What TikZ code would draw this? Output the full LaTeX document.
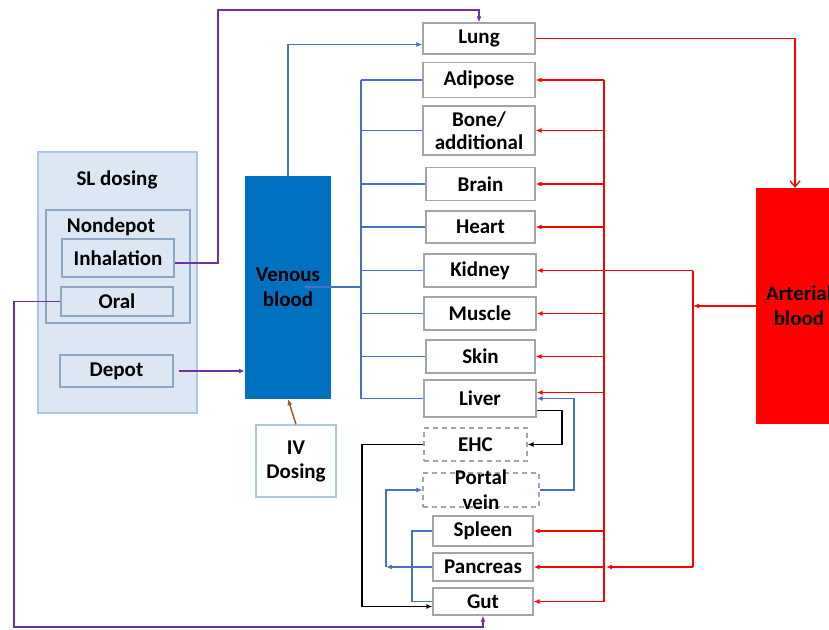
\documentclass[tikz,border=0pt]{standalone}
\usepackage{fontspec}
\setmainfont{Carlito}
\usetikzlibrary{arrows.meta}
\definecolor{VenBlue}{RGB}{0,112,192}
\definecolor{LineBlue}{RGB}{68,114,196}
\definecolor{ArtRed}{RGB}{255,0,0}
\definecolor{DosePurple}{RGB}{112,48,160}
\definecolor{IVBrown}{RGB}{156,87,30}
\definecolor{SLFill}{RGB}{220,231,243}
\definecolor{SLEdge}{RGB}{172,200,230}
\definecolor{SLInner}{RGB}{140,166,198}
\definecolor{OrganEdge}{RGB}{165,165,165}

\begin{document}
\begin{tikzpicture}[x=1pt, y=-1pt,
    font=\fontsize{21}{24}\selectfont\bfseries,
    organ/.style={draw=OrganEdge, line width=1.3pt, fill=white, inner sep=0pt, align=center},
    shunt/.style={organ, dashed, dash pattern=on 5pt off 4pt},
    dosebox/.style={draw=SLInner, line width=1.1pt, fill=SLFill, inner sep=0pt, align=center},
    blood/.style={inner sep=0pt, align=center, minimum width=86pt},
    arr/.style={-{Latex[length=6pt,width=5pt]}},
    blueline/.style={LineBlue, line width=1.3pt},
    redline/.style={ArtRed, line width=1.3pt},
    blackline/.style={black, line width=1.4pt},
    purpleline/.style={DosePurple, line width=1.3pt}]
  \useasboundingbox (0,0) rectangle (829,629);

  % SL dosing group
  \node[draw=SLEdge, line width=1.1pt, fill=SLFill, minimum width=159pt, minimum height=261pt] (sl) at (117.5,282.5) {};
  \node (sltitle) at (117,180) {SL dosing};
  \node[dosebox, minimum width=144pt, minimum height=113pt] (nondepot) at (118,266.5) {};
  \node (ndtitle) at (111,227) {Nondepot};
  \node[dosebox, minimum width=112pt, minimum height=38pt] (inhal) at (118,258) {Inhalation};
  \node[dosebox, minimum width=112pt, minimum height=29pt] (oral) at (117,301.5) {Oral};
  \node[dosebox, minimum width=113pt, minimum height=32pt] (depot) at (116.5,371) {Depot};

  % Blood pools
  \node[blood, fill=VenBlue, minimum height=223pt, font=\fontsize{21}{25}\selectfont\bfseries] (venous) at (288,287.5) {Venous\\blood};
  \node[blood, fill=ArtRed, minimum height=236pt, font=\fontsize{21}{25}\selectfont\bfseries] (arterial) at (799,306) {Arterial\\blood};
  \node[draw=SLEdge, line width=1.3pt, fill=white, align=center, minimum width=80pt, minimum height=72pt, inner sep=0pt] (iv) at (296,461) {IV\\Dosing};

  % Organs
  \node[organ, minimum width=112pt, minimum height=31pt] (lung) at (479,38.5) {Lung};
  \node[organ, minimum width=112pt, minimum height=35pt] (adipose) at (479,80) {Adipose};
  \node[organ, minimum width=112pt, minimum height=49pt, font=\fontsize{21}{23}\selectfont\bfseries] (bone) at (479,130.5) {Bone/\\additional};
  \node[organ, minimum width=109pt, minimum height=33pt] (brain) at (480.5,184) {Brain};
  \node[organ, minimum width=109pt, minimum height=32pt] (heart) at (480.5,227) {Heart};
  \node[organ, minimum width=112pt, minimum height=33pt] (kidney) at (480,270.5) {Kidney};
  \node[organ, minimum width=112pt, minimum height=33pt] (muscle) at (480,313.5) {Muscle};
  \node[organ, minimum width=109pt, minimum height=33pt] (skin) at (480.5,356.5) {Skin};
  \node[organ, minimum width=112pt, minimum height=37pt] (liver) at (480,398.5) {Liver};
  \node[shunt, minimum width=103pt, minimum height=33pt] (ehc) at (475.5,444.5) {EHC};
  \node[shunt, minimum width=116pt, minimum height=34pt, inner ysep=-5pt, font=\fontsize{21}{25}\selectfont\bfseries] (portal) at (481,490) {Portal\\vein};
  \node[organ, minimum width=100pt, minimum height=30pt] (spleen) at (483,531) {Spleen};
  \node[organ, minimum width=100pt, minimum height=28pt] (pancreas) at (483,567) {Pancreas};
  \node[organ, minimum width=100pt, minimum height=27pt] (gut) at (483,601.5) {Gut};

  % Bus positions
  \coordinate (vbus) at (361,0);
  \coordinate (vin) at (303,287);
  \coordinate (abus) at (604,0);
  \coordinate (bbus) at (693,0);
  \coordinate (pbus) at (574,0);
  \coordinate (kbus) at (562,0);
  \coordinate (ebus) at (362,0);
  \coordinate (sbus) at (412,0);
  \coordinate (pvbus) at (386,0);
  \coordinate (ptop) at (218,10);
  \coordinate (pbot) at (14,627);
  \coordinate (gutin) at ([yshift=-5pt]gut.west);

  % Dosing routes
  \draw[purpleline, arr] ([yshift=-5pt]inhal.east) -| (ptop) -| (lung.north);
  \draw[purpleline, arr] (oral.west) -| (pbot) -| (gut.south);
  \draw[purpleline, arr] ([xshift=5pt]depot.east) -- (venous.west |- depot.east);
  \draw[IVBrown, line width=1.4pt, arr] (iv.north) -- (venous.south);

  % Venous return
  \draw[blueline, arr] (venous.north) |- ([yshift=-6pt]lung.west);
  \foreach \o in {adipose, bone, brain, heart, kidney, muscle, skin, liver}
    \draw[blueline] (\o.west) -- (\o.west -| vbus);
  \draw[blueline] (adipose.west -| vbus) -- (liver.west -| vbus);
  \draw[blueline, arr] (vbus |- vin) -- (vin);

  % Splanchnic flow
  \draw[blueline, arr] (portal.east) -- (portal.east -| pbus) -- (pbus |- liver.east) -- (liver.east);
  \draw[blackline, arr] ([yshift=-12pt]liver.east) -| (kbus |- ehc.east) -- (ehc.east);
  \draw[blackline, arr] (ehc.west) -| (ebus |- gutin) -- (gutin);
  \draw[blueline] (spleen.west) -| (sbus |- gut.west) -- (gut.west);
  \draw[blueline, arr] (pancreas.west) -- (pancreas.west -| pvbus);
  \draw[blueline, arr] (pancreas.west -| pvbus) |- (portal.west);

  % Arterial supply
  \draw[redline, -{Straight Barb[length=6pt,width=10pt]}] (lung.east) -| ([xshift=-4pt]arterial.north);
  \draw[redline] (adipose.east -| abus) -- (gut.east -| abus);
  \foreach \o in {adipose, bone, brain, heart, muscle, skin, spleen, gut}
    \draw[redline, arr] (\o.east -| abus) -- (\o.east);
  \draw[redline, arr] ([yshift=6pt]liver.east -| abus) -- ([yshift=6pt]liver.east);
  \draw[redline, arr] (arterial.west) -- (arterial.west -| bbus);
  \draw[redline] (kidney.east -| bbus) -- (pancreas.east -| bbus);
  \draw[redline, arr] (kidney.east -| bbus) -- (kidney.east);
  \draw[redline, arr] (pancreas.east -| bbus) -- ([xshift=2pt]pancreas.east -| abus);
  \draw[redline, arr] (pancreas.east -| abus) -- (pancreas.east);
\end{tikzpicture}
\end{document}
